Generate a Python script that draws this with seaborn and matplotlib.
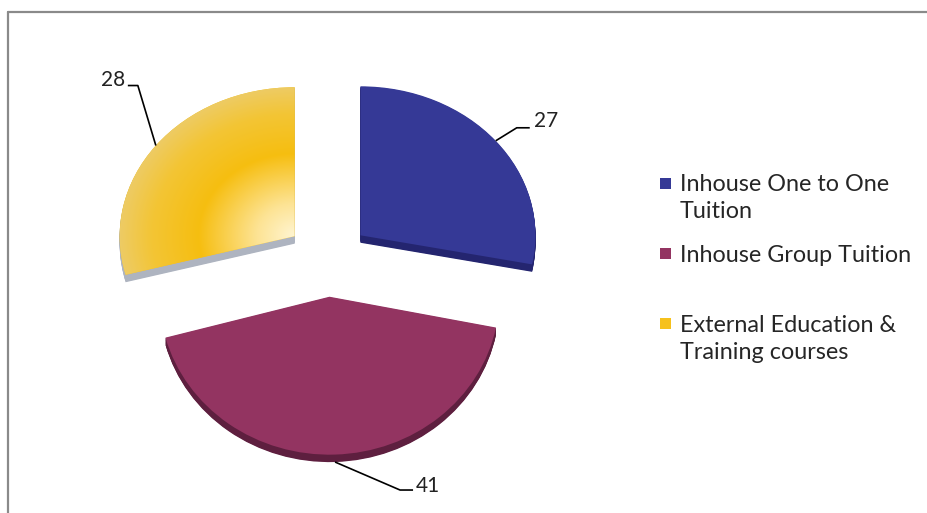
import numpy as np
import matplotlib
matplotlib.use("Agg")
import matplotlib.pyplot as plt
import seaborn as sns
from matplotlib.lines import Line2D
from matplotlib.patches import Rectangle
from matplotlib.colors import to_rgb
from matplotlib.transforms import Affine2D

# Training delivery breakdown
categories = ["Inhouse One to One\nTuition", "Inhouse Group Tuition",
              "External Education &\nTraining courses"]
values = [27, 41, 28]

sns.set_theme(style="white")
plt.rcParams["font.family"] = ["Lato", "DejaVu Sans"]

top_colors = ["#353996", "#933461", "#f6c11c"]
side_colors = ["#24256f", "#5e1f3f", "#aeb4c0"]
explode = [0.24, 0.26, 0.24]
# perspective stretch (x, y) about each slice's apex: the near slice looks taller
stretch = [(1.0, 1.0), (0.97, 1.06), (1.0, 1.0)]
thickness = 0.05

W, H = 928, 513
fig = plt.figure(figsize=(W / 100, H / 100), dpi=100)

# axes sized so one data unit is 175 px across and 149 px high (tilted disc)
rx, ry = 175, 149
cx, cy = 328, 258
lim = 1.6
ax = fig.add_axes([(cx - lim * rx) / W, ((H - cy) - lim * ry) / H,
                   2 * lim * rx / W, 2 * lim * ry / H])

pie_kw = dict(explode=explode, startangle=90, counterclock=False,
              wedgeprops=dict(linewidth=0, antialiased=True))

# geometry of each slice: mid angle and exploded apex
total = sum(values)
cum = np.concatenate([[0], np.cumsum(values)[:-1]])
mids = np.deg2rad(90 - 360 * (cum + np.array(values) / 2) / total)
apex = [(e * np.cos(m), e * np.sin(m)) for e, m in zip(explode, mids)]


def apply_stretch(patches, dy=0.0):
    for w, (sx, sy), (ax0, ay0) in zip(patches, stretch, apex):
        tr = (Affine2D().translate(-ax0, -(ay0 - dy)).scale(sx, sy)
              .translate(ax0, ay0 - dy))
        w.set_transform(tr + ax.transData)


# extruded sides of the slices
for k in np.linspace(0.004, thickness, 12):
    side, _ = ax.pie(values, colors=side_colors, center=(0, -k), **pie_kw)
    apply_stretch(side, k)

# top faces
wedges, _ = ax.pie(values, colors=top_colors, center=(0, 0), **pie_kw)
apply_stretch(wedges)

ax.set_aspect("auto")
ax.axis("off")

# radial shading on the external-courses slice
gx, gy = apex[2]
xs = np.linspace(gx - 1.05, gx + 0.05, 300)
ys = np.linspace(gy - 0.35, gy + 1.05, 300)
XX, YY = np.meshgrid(xs, ys)
R = np.hypot(XX - gx, YY - gy)
stops_r = [0.0, 0.22, 0.55, 0.82, 1.05]
stops_c = [to_rgb("#fff5d2"), to_rgb("#fde393"), to_rgb("#f6be10"),
           to_rgb("#f3c535"), to_rgb("#eccd72")]
img = np.zeros(R.shape + (3,))
for ch in range(3):
    img[..., ch] = np.interp(R, stops_r, [c[ch] for c in stops_c])
im = ax.imshow(img, extent=(xs[0], xs[-1], ys[0], ys[-1]), origin="lower",
               interpolation="bilinear", zorder=wedges[2].get_zorder() + 0.1,
               aspect="auto")
im.set_clip_path(wedges[2])
ax.set_xlim(-lim, lim)
ax.set_ylim(-lim, lim)

# leader lines with value labels (pixel offsets for the elbows)
leaders = [
    dict(elbow=(21, -13), tail=(13, 0), ha="left", pad=4, drop=0.0, rise=7),
    dict(elbow=(65, 28), tail=(13, 0), ha="left", pad=3, drop=thickness, rise=4),
    dict(elbow=(-18, -60), tail=(-10, 0), ha="right", pad=-3, drop=0.0, rise=6),
]
for v, m, (ax0, ay0), (sx, sy), ld in zip(values, mids, apex, stretch, leaders):
    px = ax0 + sx * np.cos(m)
    py = ay0 + sy * np.sin(m) - ld["drop"]
    ex = px + ld["elbow"][0] / rx
    ey = py - ld["elbow"][1] / ry
    hx = ex + ld["tail"][0] / rx
    ax.plot([px, ex, hx], [py, ey, ey], color="black", lw=1.2,
            solid_capstyle="butt", zorder=10)
    ax.text(hx + ld["pad"] / rx, ey + ld["rise"] / ry, str(v), ha=ld["ha"],
            va="center", fontsize=15, color="#222222", zorder=10)

# legend: marker tops and text tops in pixels
legend_rows = [(178, 174), (248, 245), (318, 315)]
for (mtop, ttop), lab, col in zip(legend_rows, categories, top_colors):
    fig.patches.append(Rectangle((660 / W, 1 - (mtop + 11) / H), 11 / W, 11 / H,
                                 transform=fig.transFigure, facecolor=col,
                                 edgecolor="none"))
    fig.text(680 / W, 1 - ttop / H, lab, ha="left", va="top",
             fontsize=16.8, color="#262626", linespacing=1.36)

# outer frame (left and top edges)
fig.add_artist(Line2D([8.5 / W, 8.5 / W], [0, 1 - 12 / H], color="#8a8a8a",
                      lw=1.6, transform=fig.transFigure))
fig.add_artist(Line2D([8.5 / W, 1], [1 - 12 / H, 1 - 12 / H], color="#8a8a8a",
                      lw=1.6, transform=fig.transFigure))

fig.savefig("out.png", dpi=100, facecolor="white")
